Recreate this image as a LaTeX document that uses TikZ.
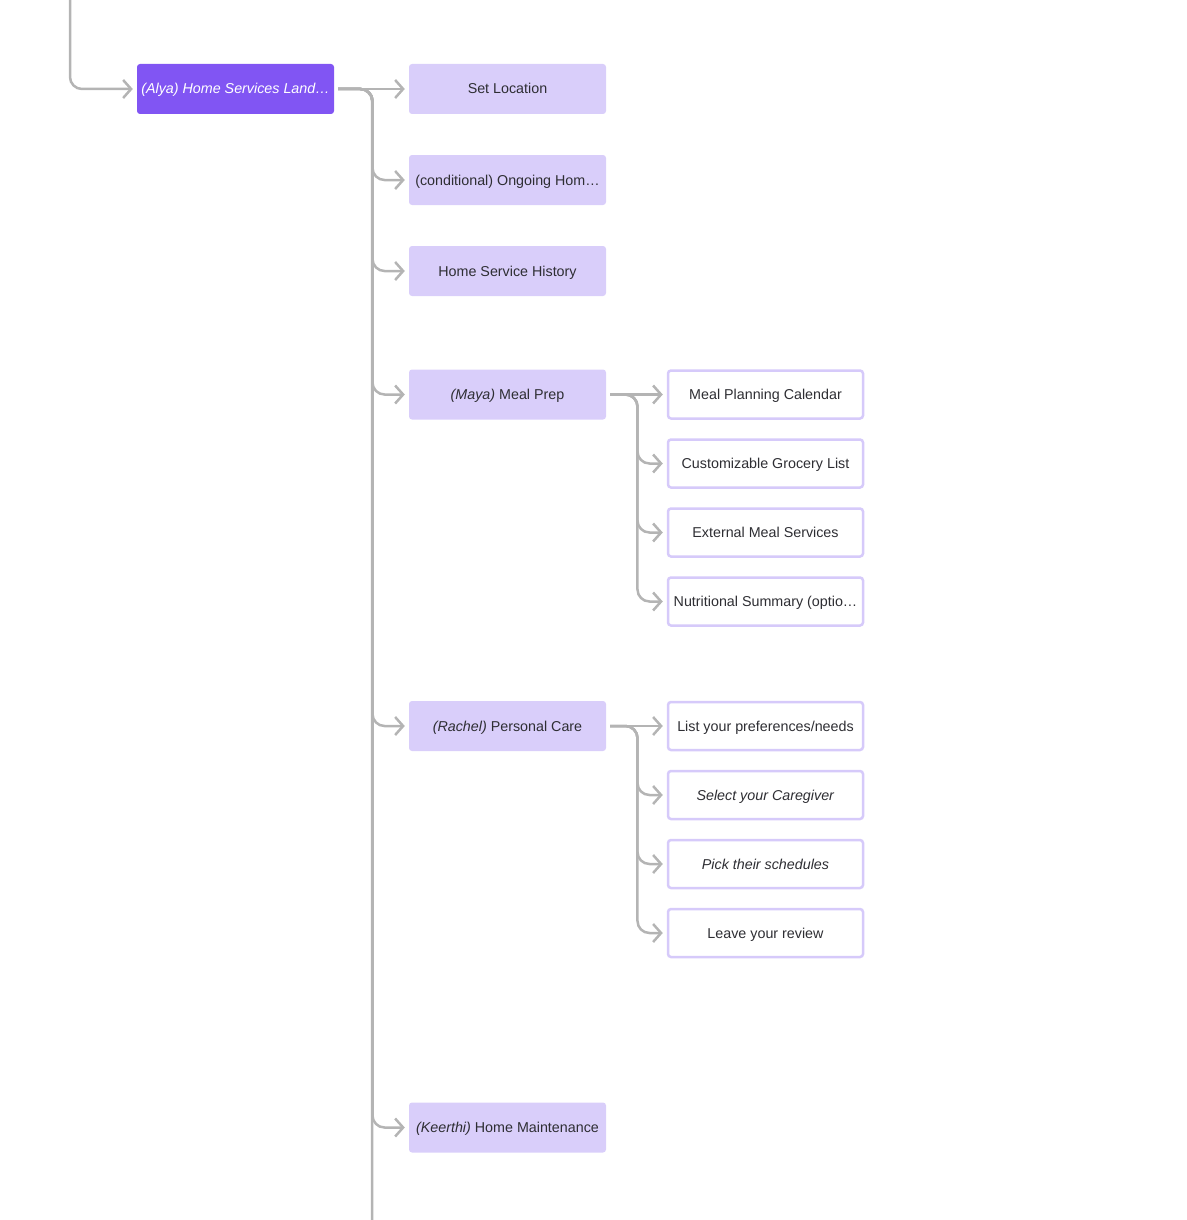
\documentclass[tikz,border=0pt]{standalone}
\usepackage{fontspec}
\setmainfont{Liberation Sans}
\usepackage{xcolor}
\usetikzlibrary{positioning}
\usetikzlibrary{calc,arrows.meta}

\definecolor{linkgray}{HTML}{B4B4B4}
\definecolor{mainpurple}{HTML}{8155F3}
\definecolor{lavender}{HTML}{D9CEFA}
\definecolor{lavenderline}{HTML}{D6CAFA}
\definecolor{textdark}{HTML}{2E2E33}

\begin{document}
\begin{tikzpicture}[x=1pt, y=-1pt, font=\fontsize{14.3}{16}\selectfont]
    % Define the styles of the boxes and the links
    \tikzset{
        mainbox/.style={rectangle, rounded corners=3pt, fill=mainpurple, text=white,
            minimum width=197pt, minimum height=50pt, inner sep=0pt, text height=10pt, text depth=0pt,
            font=\fontsize{14.3}{16}\selectfont\itshape},
        pagebox/.style={rectangle, rounded corners=3pt, fill=lavender, text=textdark,
            minimum width=197pt, minimum height=50pt, inner sep=0pt, text height=10pt, text depth=0pt},
        subbox/.style={rectangle, rounded corners=3pt, draw=lavenderline, line width=2.5pt, fill=white,
            text=textdark, minimum width=195pt, minimum height=48pt, inner sep=0pt,
            text height=10pt, text depth=0pt},
        link/.style={draw=linkgray, line width=2.5pt, rounded corners=12pt,
            -{Straight Barb[length=8pt, width=18pt, line width=2.5pt]}, shorten <=4pt, shorten >=4pt},
        trunk/.style={draw=linkgray, line width=2.5pt, rounded corners=12pt, shorten <=4pt}
    }

    % Fix the margins of the picture
    \useasboundingbox (0,0) rectangle (1186,1220);

    % Draw the landing page
    \node[mainbox] (landing) at (235.5,89) {(Alya) Home Services Land…};

    % Draw the pages under the landing page
    \node[pagebox] (setloc) at (507.5,89) {Set Location};
    \node[pagebox] (ongoing) at (507.5,180) {(conditional) Ongoing Hom…};
    \node[pagebox] (history) at (507.5,271) {Home Service History};
    \node[pagebox] (mealprep) at (507.5,394.5) {\textit{(Maya)} Meal Prep};
    \node[pagebox] (personal) at (507.5,726) {\textit{(Rachel)} Personal Care};
    \node[pagebox] (maintenance) at (507.5,1127.5) {\textit{(Keerthi)} Home Maintenance};

    % Draw the meal prep pages
    \node[subbox] (calendar) at (765.5,394.5) {Meal Planning Calendar};
    \node[subbox] (grocery) at (765.5,463.5) {Customizable Grocery List};
    \node[subbox] (external) at (765.5,532.5) {External Meal Services};
    \node[subbox] (nutrition) at (765.5,601.5) {Nutritional Summary (optio…};

    % Draw the personal care pages
    \node[subbox] (needs) at (765.5,726) {List your preferences/needs};
    \node[subbox] (caregiver) at (765.5,795) {\textit{Select your Caregiver}};
    \node[subbox] (schedules) at (765.5,864) {\textit{Pick their schedules}};
    \node[subbox] (review) at (765.5,933) {Leave your review};

    % Define the free ends of the links
    \coordinate (top) at (70,0);
    \coordinate (bottom) at (372,1220);

    % Draw the link into the landing page
    \draw[link, shorten <=0pt] (top) |- (landing.west);

    % Draw the links from the landing page
    \draw[trunk] (landing.east) -| (bottom);
    \draw[link] (landing.east) -- (setloc.west);
    \foreach \page in {ongoing, history, mealprep, personal, maintenance}
        \draw[link] (landing.east) -- ($(landing.east)!0.5!(setloc.west)+(1,0)$) |- (\page.west);

    % Draw the links from the meal prep page
    \draw[link] (mealprep.east) -- (calendar.west);
    \foreach \page in {grocery, external, nutrition}
        \draw[link] (mealprep.east) -- ($(mealprep.east)!0.5!(calendar.west)+(1,0)$) |- (\page.west);

    % Draw the links from the personal care page
    \draw[link] (personal.east) -- (needs.west);
    \foreach \page in {caregiver, schedules, review}
        \draw[link] (personal.east) -- ($(personal.east)!0.5!(needs.west)+(1,0)$) |- (\page.west);
\end{tikzpicture}
\end{document}
